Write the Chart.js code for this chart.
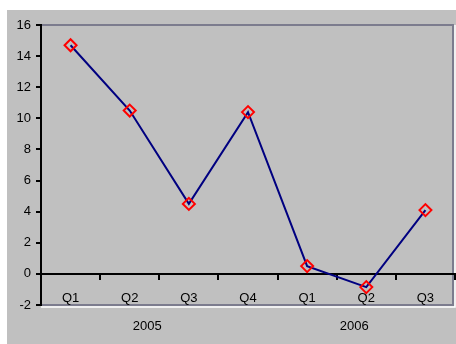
<!DOCTYPE html>
<html>
<head>
<meta charset="utf-8">
<script src="https://cdn.jsdelivr.net/npm/chart.js@4"></script>
<style>
  html, body { margin: 0; padding: 0; background: #fff; }
  canvas { display: block; }
</style>
</head>
<body>
<canvas id="chart" width="456" height="344"></canvas>
<script>
const quarters = ['Q1', 'Q2', 'Q3', 'Q4', 'Q1', 'Q2', 'Q3'];
const years = ['2005', '2006'];
const quartersPerYear = [4, 3];
const values = [14.7, 10.5, 4.5, 10.4, 0.5, -0.85, 4.1];
const yMin = -2;
const yMax = 16;
const yStep = 2;

const font = { family: 'Liberation Sans, Arial, sans-serif', size: 13 };

const frame = {
    id: 'frame',
    beforeDraw(chart) {
        const { ctx, width, height, chartArea: a } = chart;
        const right = Math.min(a.right, width - 3);
        ctx.save();
        ctx.fillStyle = '#ffffff';
        ctx.fillRect(0, 0, width, height);
        ctx.fillStyle = '#c0c0c0';
        ctx.fillRect(7, 10, width - 7, height - 10);
        // light edge under / right of the plot area
        ctx.strokeStyle = '#ffffff';
        ctx.lineWidth = 1.5;
        ctx.beginPath();
        ctx.moveTo(a.left, a.bottom + 2);
        ctx.lineTo(right + 2, a.bottom + 2);
        ctx.lineTo(right + 2, a.top);
        ctx.stroke();
        // dark border of the plot area
        ctx.strokeStyle = '#7c7c8e';
        ctx.lineWidth = 2;
        ctx.beginPath();
        ctx.moveTo(a.left, a.top);
        ctx.lineTo(right, a.top);
        ctx.lineTo(right, a.bottom);
        ctx.lineTo(a.left, a.bottom);
        ctx.stroke();
        ctx.restore();
    },
    afterDraw(chart) {
        const { ctx, chartArea: a } = chart;
        const x = chart.scales.x;
        ctx.save();
        ctx.fillStyle = '#000';
        ctx.font = `${font.size}px ${font.family}`;
        ctx.textAlign = 'center';
        ctx.textBaseline = 'middle';
        let start = 0;
        years.forEach((year, i) => {
            const end = start + quartersPerYear[i] - 1;
            const mid = (x.getPixelForValue(start) + x.getPixelForValue(end)) / 2;
            ctx.fillText(year, mid - 12, a.bottom + 21);
            start = end + 1;
        });
        ctx.restore();
    }
};

new Chart(document.getElementById('chart'), {
    type: 'line',
    data: {
        labels: quarters,
        datasets: [{
            data: values,
            borderColor: '#000080',
            borderWidth: 2,
            tension: 0,
            pointStyle: 'rectRot',
            pointRadius: 6,
            pointHoverRadius: 6,
            pointBorderColor: '#ff0000',
            pointBackgroundColor: 'rgba(0,0,0,0)',
            pointBorderWidth: 2
        }]
    },
    options: {
        responsive: false,
        animation: false,
        devicePixelRatio: 1,
        layout: {
            autoPadding: false,
            padding: { left: 7, top: 25, right: 1, bottom: 39 }
        },
        plugins: {
            legend: { display: false },
            tooltip: { enabled: false }
        },
        scales: {
            x: {
                type: 'category',
                position: { y: 0 },
                offset: true,
                grid: {
                    offset: true,
                    drawOnChartArea: false,
                    drawTicks: true,
                    tickLength: 5,
                    color: '#000',
                    lineWidth: 2
                },
                border: { color: '#000', width: 2 },
                ticks: {
                    color: '#000',
                    font: font,
                    padding: 12,
                    maxRotation: 0,
                    autoSkip: false
                }
            },
            y: {
                min: yMin,
                max: yMax,
                afterFit(s) { s.width = 34; },
                grid: {
                    drawOnChartArea: false,
                    tickLength: 5,
                    color: '#000',
                    lineWidth: 2
                },
                border: { color: '#000', width: 2 },
                ticks: {
                    stepSize: yStep,
                    color: '#000',
                    font: font,
                    padding: 5
                }
            }
        }
    },
    plugins: [frame]
});
</script>
</body>
</html>
